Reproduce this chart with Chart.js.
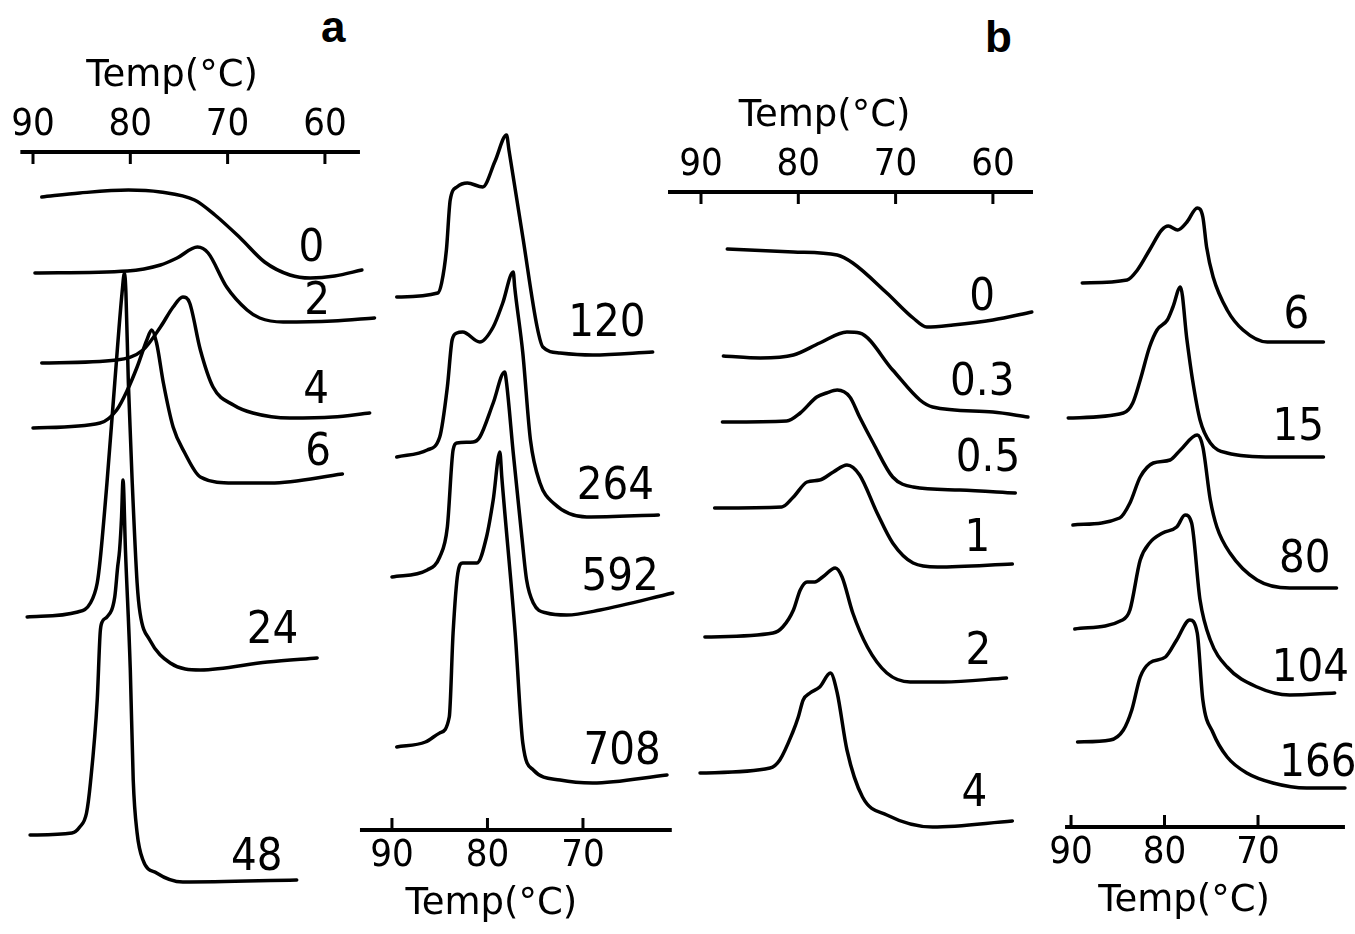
<!DOCTYPE html>
<html>
<head>
<meta charset="utf-8">
<script src="https://cdn.jsdelivr.net/npm/chart.js@4.4.0/dist/chart.umd.min.js"></script>
<style>
  body { margin: 0; background: #fff; width: 1355px; height: 934px; position: relative; overflow: hidden; }
  canvas { position: absolute; top: 0; }
  .tag { position: absolute; font: bold 44px "Liberation Sans", Arial, sans-serif; line-height: 1; color: #000; }
</style>
</head>
<body>
<div class="tag" style="left:321px;top:5px">a</div>
<div class="tag" style="left:985px;top:15px">b</div>
<canvas id="aLeft"></canvas>
<canvas id="aRight"></canvas>
<canvas id="bLeft"></canvas>
<canvas id="bRight"></canvas>
<script>
// ---- panel a, left column (storage time labels, curves as [temp, heat flow] relative to own baseline)
const aLeftTicks = [90, 80, 70, 60];
const aLeftTimes = ['0', '2', '4', '6', '24', '48'];
const aLeftBase = [63.0, 58.2, 48.7, 42.6, 24.2, 2.0];
const aLeftCurves = [
  [[89.1,7.3],[85.2,7.7],[80.2,8.0],[76.9,7.8],[73.4,7.0],[71.3,5.5],[68.7,3.2],[66.2,0.8],[63.6,-0.5],[61.5,-0.8],[59.0,-0.6],[56.2,0]],
  [[89.8,4.5],[80.3,4.7],[76.9,5.3],[75.2,6.0],[73.1,7.1],[72.0,6.5],[70.1,3.1],[68.0,0.8],[66.7,0],[64.3,-0.4],[59.2,-0.3],[54.9,0]],
  [[89.1,5.0],[81.4,5.3],[78.7,6.3],[76.9,8.6],[75.6,10.6],[74.6,11.6],[73.9,11.0],[72.8,6.3],[71.5,2.6],[69.4,0.8],[67.4,0],[63.6,-0.5],[59.2,-0.4],[55.4,0]],
  [[90.0,4.6],[83.1,5.1],[81.4,6.4],[80.3,8.4],[79.3,10.7],[78.3,13.4],[77.8,14.4],[77.3,13.1],[76.6,9.1],[75.6,4.7],[74.4,2.1],[72.8,-0.3],[69.4,-0.9],[65.6,-0.9],[58.2,0]],
  [[90.6,4.1],[85.4,4.6],[84.1,5.5],[83.4,7.5],[83.1,9.8],[82.4,17.5],[81.6,27.5],[80.85,36.5],[80.6,38.5],[80.45,36.5],[80.2,27.5],[79.8,17.5],[79.3,7.5],[79.0,4.5],[78.0,1.8],[75.9,-0.5],[72.8,-1.2],[65.9,-0.4],[60.8,0]],
  [[90.3,4.5],[86.0,4.7],[85.2,5.3],[84.5,6.7],[84.1,9.7],[83.4,18.0],[83.1,24.7],[82.9,25.8],[82.4,26.3],[81.6,28.3],[81.3,31.3],[81.1,33.0],[80.9,36.3],[80.75,40.0],[80.5,33.0],[80.0,21.0],[79.7,10.0],[79.3,4.7],[78.7,2.0],[77.3,0.7],[74.6,-0.2],[62.9,0]]
];
const aLeftLabelAt = [[61.4,2.1],[60.8,1.6],[60.9,2.2],[60.7,2.1],[65.4,2.7],[67.0,2.2]];

// ---- panel a, right column
const aRightTicks = [90, 80, 70];
const aRightTimes = ['120', '264', '592', '708'];
const aRightBase = [47.8, 31.5, 23.7, 5.5];
const aRightCurves = [
  [[89.5,5.5],[85.2,5.9],[84.8,6.9],[84.3,10.2],[83.9,15.2],[83.2,16.5],[82.1,16.9],[80.5,16.5],[79.2,19.1],[78.0,21.7],[77.75,20.2],[76.3,11.5],[74.8,2.5],[74.2,0.5],[72.4,-0.1],[69.0,-0.3],[62.7,0]],
  [[89.5,5.8],[86.3,6.5],[85.0,7.8],[84.2,12.8],[83.7,17.5],[83.2,18.2],[82.6,18.3],[80.8,17.3],[79.4,18.8],[78.4,21.2],[77.3,24.3],[77.15,22.8],[76.3,16.2],[75.5,7.5],[74.5,3.2],[73.1,1.2],[69.6,-0.2],[62.1,0]],
  [[90.0,1.6],[86.3,2.3],[85.0,3.6],[84.2,6.6],[83.6,14.3],[83.2,15.0],[81.5,15.1],[80.8,15.6],[79.4,19.0],[78.2,22.1],[78.0,21.0],[77.3,14.0],[76.4,5.6],[75.9,1.3],[75.2,-1.0],[73.8,-2.0],[71.7,-2.2],[68.2,-1.7],[60.6,0]],
  [[89.5,2.8],[86.5,3.3],[85.0,4.2],[84.0,5.8],[83.6,14.2],[83.1,20.2],[82.6,21.2],[81.1,21.2],[80.1,23.8],[79.4,27.5],[78.7,32.3],[78.5,29.8],[77.1,14.2],[76.3,3.2],[75.2,0.5],[72.4,-0.5],[69.0,-0.8],[61.2,0]]
];
const aRightLabelAt = [[67.5,2.8],[66.6,2.8],[66.1,1.5],[65.9,2.3]];

// ---- panel b, left column
const bLeftTicks = [90, 80, 70, 60];
const bLeftTimes = ['0', '0.3', '0.5', '1', '2', '4'];
const bLeftBase = [58.8, 48.3, 40.7, 33.6, 22.2, 7.9];
const bLeftCurves = [
  [[87.3,6.3],[80.5,6.0],[76.0,5.7],[74.4,4.9],[70.9,1.9],[68.2,-0.6],[66.8,-1.5],[64.1,-1.3],[60.0,-0.8],[56.0,0]],
  [[87.7,6.1],[83.9,5.9],[80.5,6.2],[77.8,7.4],[75.0,8.5],[73.7,8.4],[70.3,4.7],[67.5,1.7],[66.2,1.0],[60.0,0.5],[56.4,0]],
  [[87.8,7.1],[81.2,7.2],[79.8,8.0],[78.1,9.6],[77.1,10.0],[76.0,10.3],[74.7,9.6],[73.7,7.6],[72.3,5.0],[70.3,1.6],[68.2,0.6],[63.4,0.3],[57.7,0]],
  [[88.6,5.6],[81.7,5.7],[80.5,6.7],[79.1,8.2],[77.8,8.4],[76.4,9.2],[75.0,9.9],[73.7,8.9],[71.9,5.1],[70.3,2.1],[68.2,0.1],[65.7,-0.3],[58.0,0]],
  [[89.6,4.1],[82.6,4.5],[81.6,5.1],[80.5,6.8],[79.8,8.8],[79.1,9.6],[78.3,9.6],[77.5,10.1],[76.2,11.0],[75.5,10.1],[74.4,6.5],[72.9,3.1],[70.9,0.5],[68.5,-0.4],[65.1,-0.4],[58.6,0]],
  [[90.1,4.8],[82.9,5.3],[81.9,6.1],[80.6,8.8],[80.0,10.4],[79.5,12.1],[78.8,12.8],[77.8,13.4],[76.7,14.8],[76.0,12.8],[75.0,7.1],[73.4,2.4],[70.9,0.6],[66.2,-0.6],[58.0,0]]
];
const bLeftLabelAt = [[61.1,1.4],[61.1,3.4],[60.5,3.4],[61.6,2.5],[61.5,2.6],[61.9,2.7]];

// ---- panel b, right column
const bRightTicks = [90, 80, 70];
const bRightTimes = ['6', '15', '80', '104', '166'];
const bRightBase = [48.5, 37.0, 23.9, 13.4, 3.9];
const bRightCurves = [
  [[88.8,5.9],[84.0,6.2],[82.9,7.2],[81.6,9.2],[80.3,11.2],[79.6,11.6],[78.6,11.2],[77.6,12.0],[76.5,13.4],[75.9,12.5],[75.5,9.5],[74.8,6.5],[73.3,3.2],[71.6,1.2],[69.0,0],[63.0,0]],
  [[90.3,3.9],[84.4,4.4],[83.4,5.4],[82.6,7.7],[81.6,11.0],[80.8,12.7],[79.7,13.7],[79.1,15.0],[78.3,17.0],[77.6,11.7],[77.0,7.7],[76.2,3.7],[75.1,1.4],[73.3,0.4],[68.4,0],[63.0,0]],
  [[89.8,6.3],[84.8,7.0],[83.7,8.5],[82.6,11.1],[81.2,12.5],[79.4,12.8],[78.3,13.8],[76.5,15.3],[75.9,14.1],[75.1,8.8],[74.4,6.1],[73.0,3.5],[70.1,0.8],[66.6,0],[61.6,0]],
  [[89.6,6.4],[84.5,7.3],[83.7,8.3],[82.6,13.3],[81.6,15.0],[80.2,16.0],[78.7,16.6],[77.8,17.8],[77.1,17.0],[76.2,9.3],[75.1,5.3],[73.3,2.6],[70.1,0.6],[66.6,-0.2],[61.8,0]],
  [[89.3,4.6],[85.8,4.8],[84.4,5.8],[83.5,7.8],[82.6,11.1],[81.6,12.5],[79.9,13.1],[78.7,14.8],[77.3,16.8],[76.5,15.5],[75.9,8.8],[74.8,5.5],[73.3,3.1],[71.2,1.5],[68.4,0.5],[64.8,0],[60.7,0]]
];
const bRightLabelAt = [[65.9,2.6],[65.7,2.9],[65.0,2.8],[64.4,2.4],[63.6,2.4]];

const TICK_FONT = '"DejaVu Sans Condensed", "DejaVu Sans", sans-serif';
const LABEL_FONT = '"Liberation Sans Narrow", "DejaVu Sans Condensed", sans-serif';

// axis line, inward tick marks, axis title and the curve labels
const decoPlugin = {
  id: 'deco',
  afterDraw(chart, args, o) {
    const ctx = chart.ctx, xs = chart.scales.x, ys = chart.scales.y;
    const top = o.side === 'top';
    const edge = top ? chart.chartArea.top : chart.chartArea.bottom;
    const dir = top ? 1 : -1;
    ctx.save();
    ctx.strokeStyle = '#000';
    ctx.fillStyle = '#000';
    ctx.lineWidth = 4;
    ctx.beginPath();
    ctx.moveTo(xs.getPixelForValue(o.span[0]), edge);
    ctx.lineTo(xs.getPixelForValue(o.span[1]), edge);
    ctx.stroke();
    ctx.lineWidth = 3;
    xs.ticks.forEach(t => {
      const px = xs.getPixelForValue(t.value);
      ctx.beginPath();
      ctx.moveTo(px, edge);
      ctx.lineTo(px, edge + dir * 12);
      ctx.stroke();
    });
    ctx.font = '37px "DejaVu Sans", sans-serif';
    ctx.textAlign = 'center';
    ctx.textBaseline = 'alphabetic';
    ctx.fillText('Temp(°C)', xs.getPixelForValue(o.titleAt), top ? edge - 66 : edge + 84);

    ctx.font = '45px ' + LABEL_FONT;
    ctx.textBaseline = 'middle';
    chart.data.datasets.forEach(ds => {
      ctx.fillText(ds.label, xs.getPixelForValue(ds.labelAt[0]), ys.getPixelForValue(ds.base + ds.labelAt[1]));
    });
    ctx.restore();
  }
};

function makePanel(id, box, ticks, times, base, curves, labelAt) {
  const cv = document.getElementById(id);
  cv.width = box.width;
  cv.height = box.height;
  cv.style.left = box.left + 'px';
  const datasets = curves.map((c, i) => ({
    label: times[i],
    base: base[i],
    labelAt: labelAt[i],
    data: c.map(p => ({ x: p[0], y: base[i] + p[1] })),
    borderColor: '#000',
    borderWidth: 3.5,
    borderJoinStyle: 'round',
    borderCapStyle: 'round',
    pointRadius: 0,
    fill: false,
    cubicInterpolationMode: 'monotone'
  }));
  return new Chart(cv.getContext('2d'), {
    type: 'line',
    data: { datasets: datasets },
    options: {
      responsive: false,
      animation: false,
      events: [],
      layout: { padding: box.pad },
      plugins: {
        legend: { display: false },
        tooltip: { enabled: false },
        deco: { side: box.side, span: box.span, titleAt: box.titleAt }
      },
      scales: {
        x: {
          type: 'linear',
          position: box.side,
          reverse: true,
          min: box.xMin,
          max: box.xMax,
          afterBuildTicks: s => { s.ticks = ticks.map(v => ({ value: v })); },
          ticks: {
            color: '#000',
            font: { family: TICK_FONT, size: 38 },
            padding: box.side === 'top' ? 4 : 3,
            maxRotation: 0,
            autoSkip: false
          },
          grid: { display: false, drawTicks: false },
          border: { display: false }
        },
        y: { display: false, min: 0, max: box.yMax }
      }
    },
    plugins: [decoPlugin]
  });
}

// tick label block is 1.2 * 38 = 45.6 px tall plus twice the tick padding
makePanel('aLeft', { left: 0, width: 400, height: 900, side: 'top',
  pad: { left: 15, right: 20, top: 98.4, bottom: 0 },
  xMin: 54.34, xMax: 91.85, yMax: 74.8, span: [91.3, 56.4], titleAt: 75.7 },
  aLeftTicks, aLeftTimes, aLeftBase, aLeftCurves, aLeftLabelAt);

makePanel('aRight', { left: 330, width: 370, height: 934, side: 'bottom',
  pad: { left: 25, right: 20, top: 100, bottom: 52.4 },
  xMin: 59.84, xMax: 93.87, yMax: 73.0, span: [93.35, 60.7], titleAt: 79.6 },
  aRightTicks, aRightTimes, aRightBase, aRightCurves, aRightLabelAt);

makePanel('bLeft', { left: 640, width: 420, height: 900, side: 'top',
  pad: { left: 25, right: 20, top: 138.4, bottom: 0 },
  xMin: 55.16, xMax: 93.70, yMax: 70.8, span: [93.39, 55.88], titleAt: 77.3 },
  bLeftTicks, bLeftTimes, bLeftBase, bLeftCurves, bLeftLabelAt);

makePanel('bRight', { left: 1035, width: 320, height: 934, side: 'bottom',
  pad: { left: 25, right: 5, top: 150, bottom: 55.4 },
  xMin: 60.16, xMax: 91.18, yMax: 67.7, span: [90.64, 60.7], titleAt: 77.9 },
  bRightTicks, bRightTimes, bRightBase, bRightCurves, bRightLabelAt);
</script>
</body>
</html>
